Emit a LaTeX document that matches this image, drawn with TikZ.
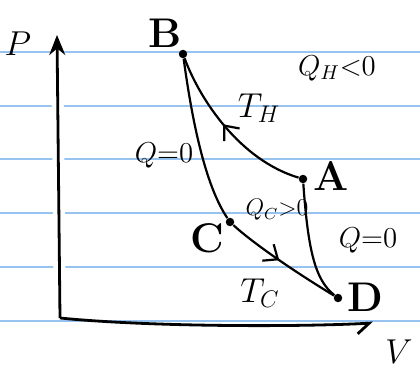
\documentclass[tikz,border=0pt]{standalone}
\usetikzlibrary{arrows.meta, decorations.markings}
\definecolor{ruleblue}{RGB}{150,195,240}

\begin{document}
\begin{tikzpicture}[x=0.5pt, y=-0.5pt,
  rule/.style={ruleblue, line width=0.9pt},
  axis/.style={line width=1.4pt},
  curve/.style={line width=1.1pt},
  pt/.style={circle, fill, inner sep=1.5pt},
  lbl/.style={font=\huge\bfseries},
  txt/.style={font=\LARGE},
  qtxt/.style={font=\Large, inner sep=1pt},
  midfwd/.style={postaction={decorate}, decoration={markings,
    mark=at position #1 with {\arrow{Straight Barb[length=6pt, width=10pt]}}}},
  midbwd/.style={postaction={decorate}, decoration={markings,
    mark=at position #1 with {\arrowreversed{Straight Barb[length=6pt, width=10pt]}}}}
]
\useasboundingbox (0,0) rectangle (420,369);
\foreach \y in {52,106,159,213,267,321}
  \draw[rule] (0,\y) -- (420,\y);

\coordinate (O) at (60,318);
\coordinate (Ptop) at (57,35);
\coordinate (Vend) at (373,323);
\draw[axis, preaction={draw=white, line width=6pt}, -{Stealth[length=10pt, width=8pt]}] (O) -- (Ptop);
\draw[axis, -{Straight Barb[harpoon, swap, length=6pt, width=10pt]}] (O) .. controls (150,327) and (300,327) .. (Vend);
\node[txt] (P) at (18,44) {$P$};
\node[txt] (V) at (399,352) {$V$};

\node[pt] (B) at (183,54) {};
\node[pt] (A) at (303,179) {};
\node[pt] (C) at (230,222) {};
\node[pt] (D) at (338,298) {};
\node[lbl] (Blbl) at (165,33) {B};
\node[lbl] (Albl) at (331,176) {A};
\node[lbl] (Clbl) at (207,238) {C};
\node[lbl] (Dlbl) at (365,297) {D};

\draw[curve, midbwd=0.45] (B) .. controls (200,100) and (240,160) .. (A);
\draw[curve] (A) .. controls (308,250) and (315,280) .. (D);
\draw[curve] (B) .. controls (192,120) and (205,185) .. (C);
\draw[curve, midfwd=0.47] (C) .. controls (255,245) and (300,275) .. (D);

\node[txt] (TH) at (259,108) {$T_H$};
\node[qtxt] (QH) at (337,68) {$Q_H{<}0$};
\node[qtxt] (QBC) at (164,155) {$Q{=}0$};
\node[qtxt, font=\large] (QC) at (277,210) {$Q_C{>}0$};
\node[qtxt] (QDA) at (368,240) {$Q{=}0$};
\node[txt] (TC) at (260,293) {$T_C$};
\end{tikzpicture}
\end{document}
